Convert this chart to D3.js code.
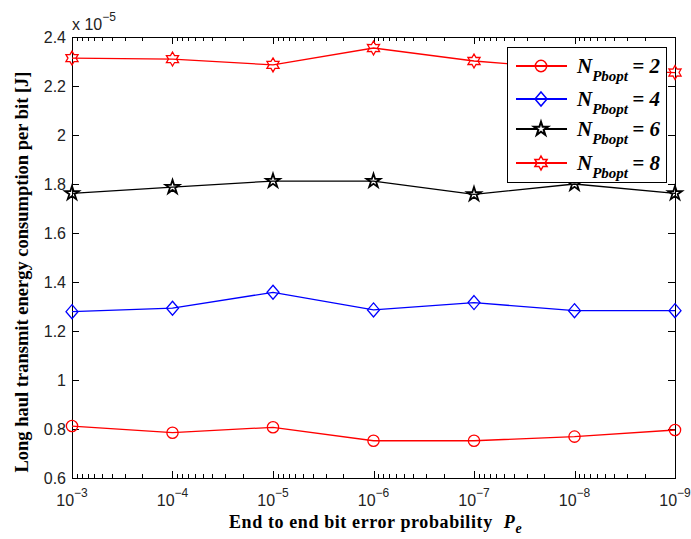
<!DOCTYPE html>
<html>
<head>
<meta charset="utf-8">
<script src="https://cdn.jsdelivr.net/npm/d3@7"></script>
<style>
  body { margin: 0; background: #fff; }
  svg { display: block; }
  .tick-label { font-family: Arial, "Liberation Sans", sans-serif; font-size: 16px; fill: #222; }
  .axis-title { font-family: "Times New Roman", "Liberation Serif", serif; font-weight: bold; font-size: 18px; fill: #000; }
</style>
</head>
<body>
<svg id="chart" width="691" height="539"></svg>
<script>
// values (units of 1e-5 J)
const errorProb = [1e-3, 1e-4, 1e-5, 1e-6, 1e-7, 1e-8, 1e-9];
const npb2 = [0.812, 0.785, 0.807, 0.752, 0.752, 0.769, 0.796];
const npb4 = [1.279, 1.293, 1.358, 1.286, 1.316, 1.283, 1.283];
const npb6 = [1.762, 1.787, 1.812, 1.812, 1.758, 1.800, 1.762];
const npb8 = [2.314, 2.310, 2.286, 2.355, 2.302, 2.270, 2.255];
const seriesNames = ['2', '4', '6', '8'];
const yTicks = [0.6, 0.8, 1, 1.2, 1.4, 1.6, 1.8, 2, 2.2, 2.4];

const series = [
	{ name: seriesNames[0], values: npb2, color: '#ff0000', marker: 'circle' },
	{ name: seriesNames[1], values: npb4, color: '#0000ff', marker: 'diamond' },
	{ name: seriesNames[2], values: npb6, color: '#000000', marker: 'star' },
	{ name: seriesNames[3], values: npb8, color: '#ff0000', marker: 'hexagram' }
];

const margin = { top: 37, right: 16, bottom: 61, left: 72 };
const width = 691;
const height = 539;

const $svg = d3.select('#chart');

const x = d3.scaleLog()
	.domain([1e-3, 1e-9])
	.range([margin.left, width - margin.right]);
const y = d3.scaleLinear()
	.domain([0.6, 2.4])
	.range([height - margin.bottom, margin.top]);

const x0 = x.range()[0], x1 = x.range()[1];
const y0 = y.range()[0], y1 = y.range()[1];

// minor/major x ticks
const allX = x.ticks();
const isMajor = d => Math.abs(Math.log10(d) - Math.round(Math.log10(d))) < 1e-6;
const majorX = allX.filter(isMajor);
const minorX = allX.filter(d => !isMajor(d));

const MAJOR = 7;
const MINOR = 4;

const $ticks = $svg.append('g').attr('stroke', '#000').attr('stroke-width', 1);

function xTick(v, len) {
	const px = Math.round(x(v)) + 0.5;
	$ticks.append('line').attr('x1', px).attr('x2', px).attr('y1', y0).attr('y2', y0 - len);
	$ticks.append('line').attr('x1', px).attr('x2', px).attr('y1', y1).attr('y2', y1 + len);
}
majorX.forEach(v => xTick(v, MAJOR));
minorX.forEach(v => xTick(v, MINOR));

yTicks.forEach(v => {
	const py = Math.round(y(v)) + 0.5;
	$ticks.append('line').attr('x1', x0).attr('x2', x0 + MAJOR).attr('y1', py).attr('y2', py);
	$ticks.append('line').attr('x1', x1).attr('x2', x1 - MAJOR).attr('y1', py).attr('y2', py);
});

// box
$svg.append('rect')
	.attr('x', Math.round(x0) + 0.5)
	.attr('y', Math.round(y1) + 0.5)
	.attr('width', Math.round(x1 - x0))
	.attr('height', Math.round(y0 - y1))
	.attr('fill', 'none')
	.attr('stroke', '#000')
	.attr('stroke-width', 1);

// y tick labels
$svg.append('g')
	.selectAll('text')
	.data(yTicks)
	.join('text')
	.attr('class', 'tick-label')
	.attr('x', x0 - 6)
	.attr('y', d => y(d) + 6)
	.attr('text-anchor', 'end')
	.text(d => d3.format('~g')(d));

// x tick labels with superscripts
const $xl = $svg.append('g')
	.selectAll('text')
	.data(majorX)
	.join('text')
	.attr('class', 'tick-label')
	.attr('x', d => x(d))
	.attr('y', y0 + 28)
	.attr('text-anchor', 'middle');
$xl.append('tspan').text('10');
$xl.append('tspan')
	.attr('dy', -9)
	.attr('font-size', 12)
	.text(d => '\u2212' + Math.round(-Math.log10(d)));

// exponent multiplier
const $mult = $svg.append('text')
	.attr('class', 'tick-label')
	.attr('x', x0)
	.attr('y', 30);
$mult.append('tspan').text('x 10');
$mult.append('tspan').attr('dy', -9).attr('font-size', 12).text('\u22125');

// marker shapes
function hexagram(r) {
	const pts = [];
	for (let i = 0; i < 12; i++) {
		const a = Math.PI / 6 * i - Math.PI / 2;
		const rr = i % 2 === 0 ? r : r * 0.577;
		pts.push([rr * Math.cos(a), rr * Math.sin(a)]);
	}
	return 'M' + pts.map(p => p.join(',')).join('L') + 'Z';
}
function markerPath(type) {
	if (type === 'circle') return d3.symbol(d3.symbolCircle, 100)();
	if (type === 'diamond') return 'M0,-7L6,0L0,7L-6,0Z';
	if (type === 'star') return d3.symbol(d3.symbolStar, 60)();
	return hexagram(7);
}

const line = d3.line()
	.x((d, i) => x(errorProb[i]))
	.y(d => y(d));

const $series = $svg.append('g')
	.selectAll('g')
	.data(series)
	.join('g');

$series.append('path')
	.attr('d', d => line(d.values))
	.attr('fill', 'none')
	.attr('stroke', d => d.color)
	.attr('stroke-width', 1.3);

$series.each(function (s) {
	d3.select(this)
		.selectAll('path.marker')
		.data(s.values)
		.join('path')
		.attr('class', 'marker')
		.attr('d', markerPath(s.marker))
		.attr('transform', (d, i) => `translate(${x(errorProb[i])},${y(d)})`)
		.attr('fill', 'none')
		.attr('stroke', s.color)
		.attr('stroke-width', s.marker === 'star' ? 1.8 : 1.3);
});

// legend
const legend = { x: 507, y: 47, w: 159, h: 135 };
const $legend = $svg.append('g');
$legend.append('rect')
	.attr('x', legend.x + 0.5)
	.attr('y', legend.y + 0.5)
	.attr('width', legend.w)
	.attr('height', legend.h)
	.attr('fill', '#fff')
	.attr('stroke', '#000');

const rowY = [66, 99, 129, 163];
const $rows = $legend.selectAll('g.row')
	.data(series)
	.join('g')
	.attr('class', 'row')
	.attr('transform', (d, i) => `translate(0,${rowY[i]})`);

$rows.append('line')
	.attr('x1', 516).attr('x2', 567)
	.attr('stroke', d => d.color)
	.attr('stroke-width', 2);
$rows.append('path')
	.attr('d', d => markerPath(d.marker))
	.attr('transform', 'translate(541,0)')
	.attr('fill', d => d.marker === 'star' ? '#fff' : 'none')
	.attr('stroke', d => d.color)
	.attr('stroke-width', d => d.marker === 'star' ? 2 : 1.5);

const $lt = $rows.append('text')
	.attr('x', 577)
	.attr('y', 7)
	.attr('font-family', '"Times New Roman", "Liberation Serif", serif')
	.attr('font-weight', 'bold')
	.attr('font-style', 'italic')
	.attr('font-size', 21);
$lt.append('tspan').text('N');
$lt.append('tspan').attr('dy', 8).attr('font-size', 15).text('Pbopt');
$lt.append('tspan').attr('dy', -8).text(d => '\u2009= ' + d.name);

// axis titles
const $xt = $svg.append('text')
	.attr('class', 'axis-title')
	.attr('x', 229)
	.attr('y', 528)
	.attr('letter-spacing', 0.6);
$xt.append('tspan').text('End to end bit error probability ');
$xt.append('tspan').attr('font-style', 'italic').attr('dx', 6).text('P');
$xt.append('tspan').attr('font-style', 'italic').attr('font-size', 14).attr('dy', 5).text('e');

$svg.append('text')
	.attr('class', 'axis-title')
	.attr('transform', 'translate(28,272) rotate(-90)')
	.attr('text-anchor', 'middle')
	.attr('font-size', 18.5)
	.style('font-size', '18.5px')
	.text('Long haul transmit energy consumption per bit [J]');
</script>
</body>
</html>
